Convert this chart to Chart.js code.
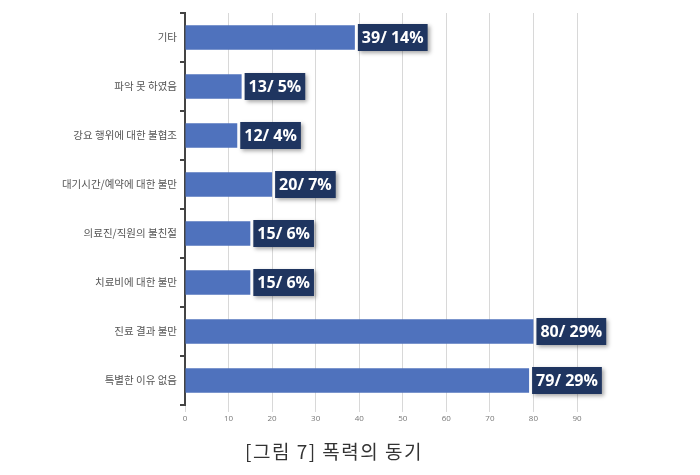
<!DOCTYPE html>
<html>
<head>
<meta charset="utf-8">
<script src="https://cdn.jsdelivr.net/npm/chart.js@4"></script>
<style>
  html, body { margin: 0; padding: 0; background: #fff; }
  #wrap { width: 700px; height: 475px; }
</style>
</head>
<body>
<div id="wrap"><canvas id="myChart" width="700" height="475"></canvas></div>
<script>
const categories = ['기타', '파악 못 하였음', '강요 행위에 대한 불협조', '대기시간/예약에 대한 불만',
    '의료진/직원의 불친절', '치료비에 대한 불만', '진료 결과 불만', '특별한 이유 없음'];
const counts = [39, 13, 12, 20, 15, 15, 80, 79];
const percents = [14, 5, 4, 7, 6, 6, 29, 29];
const caption = '[그림 7] 폭력의 동기';

// dark boxes with "count/ pct%" next to each bar
const valueBoxes = {
    id: 'valueBoxes',
    afterDatasetsDraw(chart) {
        const ctx = chart.ctx;
        const meta = chart.getDatasetMeta(0);
        ctx.save();
        ctx.font = 'bold 16px "Open Sans", "Liberation Sans", sans-serif';
        ctx.textBaseline = 'middle';
        meta.data.forEach((bar, i) => {
            const text = counts[i] + '/ ' + percents[i] + '%';
            const w = ctx.measureText(text).width + 8;
            const h = 27;
            const x = bar.x + 3;
            const y = bar.y - h / 2;
            ctx.shadowColor = 'rgba(0,0,0,0.35)';
            ctx.shadowBlur = 4;
            ctx.shadowOffsetX = 2;
            ctx.shadowOffsetY = 2;
            ctx.fillStyle = '#1f3560';
            ctx.fillRect(x, y, w, h);
            ctx.shadowColor = 'transparent';
            ctx.fillStyle = '#ffffff';
            ctx.textAlign = 'left';
            ctx.fillText(text, x + 4, bar.y + 1);
        });
        ctx.restore();
    },
    afterDraw(chart) {
        const ctx = chart.ctx;
        ctx.save();
        ctx.font = '19px "Noto Sans CJK KR", sans-serif';
        ctx.letterSpacing = '1.5px';
        ctx.fillStyle = '#333';
        ctx.textAlign = 'center';
        ctx.textBaseline = 'middle';
        ctx.fillText(caption, 334, 452);
        ctx.restore();
    }
};

const ctx = document.getElementById('myChart').getContext('2d');
const myChart = new Chart(ctx, {
    type: 'bar',
    data: {
        labels: categories,
        datasets: [{
            label: '폭력의 동기',
            data: counts,
            backgroundColor: '#4f72bd',
            borderWidth: 0,
            barPercentage: 0.5,
            categoryPercentage: 1
        }]
    },
    options: {
        indexAxis: 'y',
        responsive: false,
        animation: false,
        layout: { padding: { top: 13, right: 123, bottom: 50, left: 0 } },
        plugins: {
            legend: { display: false },
            tooltip: { enabled: false }
        },
        scales: {
            x: {
                min: 0,
                max: 90,
                ticks: {
                    stepSize: 10,
                    color: '#777',
                    font: { size: 8, family: '"Open Sans", sans-serif' },
                    padding: 2
                },
                grid: {
                    color: '#d8d8d8',
                    tickLength: 7,
                    lineWidth: 1
                },
                border: { display: false },
                afterFit(scale) { scale.height = 20; }
            },
            y: {
                ticks: {
                    color: '#555',
                    font: { size: 10.5, family: '"Noto Sans CJK KR", sans-serif' },
                    padding: 3
                },
                grid: {
                    drawOnChartArea: false,
                    tickLength: 5,
                    color: '#444',
                    lineWidth: 2
                },
                border: { display: true, color: '#444', width: 2 },
                afterFit(scale) { scale.width = 185; }
            }
        }
    },
    plugins: [valueBoxes]
});
</script>
</body>
</html>
